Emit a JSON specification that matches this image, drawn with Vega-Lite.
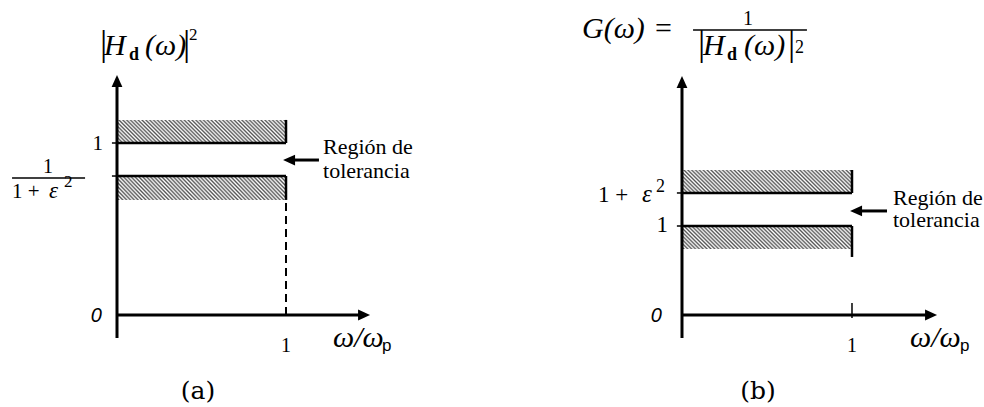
{
  "$schema": "https://vega.github.io/schema/vega-lite/v6.json",
  "background": "white",
  "padding": 0,
  "spacing": 0,
  "config": {"view": {"stroke": null}},
  "hconcat": [
    {
      "width": 492,
      "height": 407,
      "encoding": {
        "x": {"field": "x", "type": "quantitative", "scale": {"domain": [-0.6923, 2.2189], "nice": false, "zero": false}, "axis": null},
        "y": {"field": "y", "type": "quantitative", "scale": {"domain": [-0.5349, 1.8314], "nice": false, "zero": false}, "axis": null}
      },
      "layer": [
        {
          "data": {"values": [
            {"x": 0, "x2": 1, "y": 1.0, "y2": 1.134},
            {"x": 0, "x2": 1, "y": 0.669, "y2": 0.808}
          ]},
          "mark": {"type": "rect", "strokeWidth": 0, "fill": {"gradient": "linear", "x1": 0, "y1": 1, "x2": 1.115, "y2": 0.848, "stops": [
            {"offset": 0, "color": "#ffffff"}, {"offset": 0.01, "color": "#555555"}, {"offset": 0.02, "color": "#ffffff"}, {"offset": 0.03, "color": "#555555"}, {"offset": 0.04, "color": "#ffffff"}, {"offset": 0.05, "color": "#555555"}, {"offset": 0.06, "color": "#ffffff"}, {"offset": 0.07, "color": "#555555"}, {"offset": 0.08, "color": "#ffffff"}, {"offset": 0.09, "color": "#555555"},
            {"offset": 0.1, "color": "#ffffff"}, {"offset": 0.11, "color": "#555555"}, {"offset": 0.12, "color": "#ffffff"}, {"offset": 0.13, "color": "#555555"}, {"offset": 0.14, "color": "#ffffff"}, {"offset": 0.15, "color": "#555555"}, {"offset": 0.16, "color": "#ffffff"}, {"offset": 0.17, "color": "#555555"}, {"offset": 0.18, "color": "#ffffff"}, {"offset": 0.19, "color": "#555555"},
            {"offset": 0.2, "color": "#ffffff"}, {"offset": 0.21, "color": "#555555"}, {"offset": 0.22, "color": "#ffffff"}, {"offset": 0.23, "color": "#555555"}, {"offset": 0.24, "color": "#ffffff"}, {"offset": 0.25, "color": "#555555"}, {"offset": 0.26, "color": "#ffffff"}, {"offset": 0.27, "color": "#555555"}, {"offset": 0.28, "color": "#ffffff"}, {"offset": 0.29, "color": "#555555"},
            {"offset": 0.3, "color": "#ffffff"}, {"offset": 0.31, "color": "#555555"}, {"offset": 0.32, "color": "#ffffff"}, {"offset": 0.33, "color": "#555555"}, {"offset": 0.34, "color": "#ffffff"}, {"offset": 0.35, "color": "#555555"}, {"offset": 0.36, "color": "#ffffff"}, {"offset": 0.37, "color": "#555555"}, {"offset": 0.38, "color": "#ffffff"}, {"offset": 0.39, "color": "#555555"},
            {"offset": 0.4, "color": "#ffffff"}, {"offset": 0.41, "color": "#555555"}, {"offset": 0.42, "color": "#ffffff"}, {"offset": 0.43, "color": "#555555"}, {"offset": 0.44, "color": "#ffffff"}, {"offset": 0.45, "color": "#555555"}, {"offset": 0.46, "color": "#ffffff"}, {"offset": 0.47, "color": "#555555"}, {"offset": 0.48, "color": "#ffffff"}, {"offset": 0.49, "color": "#555555"},
            {"offset": 0.5, "color": "#ffffff"}, {"offset": 0.51, "color": "#555555"}, {"offset": 0.52, "color": "#ffffff"}, {"offset": 0.53, "color": "#555555"}, {"offset": 0.54, "color": "#ffffff"}, {"offset": 0.55, "color": "#555555"}, {"offset": 0.56, "color": "#ffffff"}, {"offset": 0.57, "color": "#555555"}, {"offset": 0.58, "color": "#ffffff"}, {"offset": 0.59, "color": "#555555"},
            {"offset": 0.6, "color": "#ffffff"}, {"offset": 0.61, "color": "#555555"}, {"offset": 0.62, "color": "#ffffff"}, {"offset": 0.63, "color": "#555555"}, {"offset": 0.64, "color": "#ffffff"}, {"offset": 0.65, "color": "#555555"}, {"offset": 0.66, "color": "#ffffff"}, {"offset": 0.67, "color": "#555555"}, {"offset": 0.68, "color": "#ffffff"}, {"offset": 0.69, "color": "#555555"},
            {"offset": 0.7, "color": "#ffffff"}, {"offset": 0.71, "color": "#555555"}, {"offset": 0.72, "color": "#ffffff"}, {"offset": 0.73, "color": "#555555"}, {"offset": 0.74, "color": "#ffffff"}, {"offset": 0.75, "color": "#555555"}, {"offset": 0.76, "color": "#ffffff"}, {"offset": 0.77, "color": "#555555"}, {"offset": 0.78, "color": "#ffffff"}, {"offset": 0.79, "color": "#555555"},
            {"offset": 0.8, "color": "#ffffff"}, {"offset": 0.81, "color": "#555555"}, {"offset": 0.82, "color": "#ffffff"}, {"offset": 0.83, "color": "#555555"}, {"offset": 0.84, "color": "#ffffff"}, {"offset": 0.85, "color": "#555555"}, {"offset": 0.86, "color": "#ffffff"}, {"offset": 0.87, "color": "#555555"}, {"offset": 0.88, "color": "#ffffff"}, {"offset": 0.89, "color": "#555555"},
            {"offset": 0.9, "color": "#ffffff"}, {"offset": 0.91, "color": "#555555"}, {"offset": 0.92, "color": "#ffffff"}, {"offset": 0.93, "color": "#555555"}, {"offset": 0.94, "color": "#ffffff"}, {"offset": 0.95, "color": "#555555"}, {"offset": 0.96, "color": "#ffffff"}, {"offset": 0.97, "color": "#555555"}, {"offset": 0.98, "color": "#ffffff"}, {"offset": 0.99, "color": "#555555"},
            {"offset": 1, "color": "#ffffff"}
          ]}},
          "encoding": {"x2": {"field": "x2"}, "y2": {"field": "y2"}}
        },
        {
          "data": {"values": [
            {"x": 0, "x2": 0, "y": -0.134, "y2": 1.36},
            {"x": 0, "x2": 1.46, "y": 0, "y2": 0},
            {"x": 1.05, "x2": 1.195, "y": 0.901, "y2": 0.901}
          ]},
          "mark": {"type": "rule", "color": "black", "strokeWidth": 3},
          "encoding": {"x2": {"field": "x2"}, "y2": {"field": "y2"}}
        },
        {
          "data": {"values": [
            {"x": 0, "x2": 1, "y": 1, "y2": 1},
            {"x": 0, "x2": 1, "y": 0.808, "y2": 0.808},
            {"x": 1, "x2": 1, "y": 1, "y2": 1.134},
            {"x": 1, "x2": 1, "y": 0.669, "y2": 0.808}
          ]},
          "mark": {"type": "rule", "color": "black", "strokeWidth": 2.5},
          "encoding": {"x2": {"field": "x2"}, "y2": {"field": "y2"}}
        },
        {
          "data": {"values": [
            {"x": -0.03, "x2": 0, "y": 1, "y2": 1},
            {"x": -0.03, "x2": 0, "y": 0.808, "y2": 0.808},
            {"x": -0.621, "x2": -0.189, "y": 0.797, "y2": 0.797}
          ]},
          "mark": {"type": "rule", "color": "black", "strokeWidth": 1.5},
          "encoding": {"x2": {"field": "x2"}, "y2": {"field": "y2"}}
        },
        {
          "data": {"values": [{"x": 1, "x2": 1, "y": 0, "y2": 0.669}]},
          "mark": {"type": "rule", "color": "black", "strokeWidth": 2, "strokeDash": [8, 5]},
          "encoding": {"x2": {"field": "x2"}, "y2": {"field": "y2"}}
        },
        {
          "data": {"values": [{"x": 0, "y": 1.36}]},
          "mark": {"type": "point", "shape": "M0,-1L0.9,1L-0.9,1Z", "filled": true, "color": "black", "opacity": 1, "size": 144, "strokeWidth": 0}
        },
        {
          "data": {"values": [{"x": 1.462, "y": 0}]},
          "mark": {"type": "point", "shape": "M1,0L-1,-0.9L-1,0.9Z", "filled": true, "color": "black", "opacity": 1, "size": 144, "strokeWidth": 0}
        },
        {
          "data": {"values": [{"x": 1.018, "y": 0.901}]},
          "mark": {"type": "point", "shape": "M-1,0L1,-0.9L1,0.9Z", "filled": true, "color": "black", "opacity": 1, "size": 144, "strokeWidth": 0}
        },
        {
          "data": {"values": [{"x": -0.083, "y": 0.959, "t": "1"}]},
          "mark": {"type": "text", "font": "Liberation Serif", "fontSize": 21, "align": "right", "baseline": "alphabetic", "color": "black"},
          "encoding": {"text": {"field": "t"}}
        },
        {
          "data": {"values": [{"x": 1, "y": -0.215, "t": "1"}, {"x": -0.408, "y": 0.826, "t": "1"}]},
          "mark": {"type": "text", "font": "Liberation Serif", "fontSize": 20, "align": "center", "baseline": "alphabetic", "color": "black"},
          "encoding": {"text": {"field": "t"}}
        },
        {
          "data": {"values": [{"x": -0.621, "y": 0.68, "t": "1 +"}]},
          "mark": {"type": "text", "font": "Liberation Serif", "fontSize": 21, "align": "left", "baseline": "alphabetic", "color": "black"},
          "encoding": {"text": {"field": "t"}}
        },
        {
          "data": {"values": [{"x": -0.402, "y": 0.68, "t": "ε"}]},
          "mark": {"type": "text", "font": "Liberation Serif", "fontStyle": "italic", "fontSize": 23, "align": "left", "baseline": "alphabetic", "color": "black"},
          "encoding": {"text": {"field": "t"}}
        },
        {
          "data": {"values": [{"x": -0.314, "y": 0.744, "t": "2"}, {"x": 0.426, "y": 1.599, "t": "2"}]},
          "mark": {"type": "text", "font": "Liberation Serif", "fontSize": 17, "align": "left", "baseline": "alphabetic", "color": "black"},
          "encoding": {"text": {"field": "t"}}
        },
        {
          "data": {"values": [{"x": 1.219, "y": 0.936, "t": "Región de"}, {"x": 1.219, "y": 0.797, "t": "tolerancia"}]},
          "mark": {"type": "text", "font": "Liberation Serif", "fontSize": 22, "align": "left", "baseline": "alphabetic", "color": "black"},
          "encoding": {"text": {"field": "t"}}
        },
        {
          "data": {"values": [{"x": -0.089, "y": -0.041, "t": "0"}]},
          "mark": {"type": "text", "font": "Liberation Sans", "fontStyle": "italic", "fontSize": 20, "align": "right", "baseline": "alphabetic", "color": "black"},
          "encoding": {"text": {"field": "t"}}
        },
        {
          "data": {"values": [{"x": -0.077, "y": 1.512, "t": "H"}, {"x": 0.166, "y": 1.512, "t": "(ω)"}, {"x": 1.278, "y": -0.186, "t": "ω/ω"}]},
          "mark": {"type": "text", "font": "Liberation Serif", "fontStyle": "italic", "fontSize": 30, "align": "left", "baseline": "alphabetic", "color": "black"},
          "encoding": {"text": {"field": "t"}}
        },
        {
          "data": {"values": [{"x": -0.101, "y": 1.512, "t": "|"}, {"x": 0.391, "y": 1.512, "t": "|"}]},
          "mark": {"type": "text", "font": "Liberation Serif", "fontSize": 36, "align": "left", "baseline": "alphabetic", "color": "black"},
          "encoding": {"text": {"field": "t"}}
        },
        {
          "data": {"values": [{"x": 0.071, "y": 1.483, "t": "d"}]},
          "mark": {"type": "text", "font": "Liberation Serif", "fontWeight": "bold", "fontSize": 18, "align": "left", "baseline": "alphabetic", "color": "black"},
          "encoding": {"text": {"field": "t"}}
        },
        {
          "data": {"values": [{"x": 1.568, "y": -0.209, "t": "p"}]},
          "mark": {"type": "text", "font": "Liberation Sans", "fontSize": 17, "align": "left", "baseline": "alphabetic", "color": "black"},
          "encoding": {"text": {"field": "t"}}
        },
        {
          "data": {"values": [{"x": 0.479, "y": -0.488, "t": "(a)"}]},
          "mark": {"type": "text", "font": "DejaVu Serif", "fontSize": 25, "align": "center", "baseline": "alphabetic", "color": "black"},
          "encoding": {"text": {"field": "t"}}
        }
      ]
    },
    {
      "width": 492,
      "height": 407,
      "encoding": {
        "x": {"field": "x", "type": "quantitative", "scale": {"domain": [-1.1176, 1.7765], "nice": false, "zero": false}, "axis": null},
        "y": {"field": "y", "type": "quantitative", "scale": {"domain": [-1.0337, 3.5393], "nice": false, "zero": false}, "axis": null}
      },
      "layer": [
        {
          "data": {"values": [
            {"x": 0, "x2": 1, "y": 1.371, "y2": 1.629},
            {"x": 0, "x2": 1, "y": 0.742, "y2": 1.0}
          ]},
          "mark": {"type": "rect", "strokeWidth": 0, "fill": {"gradient": "linear", "x1": 0, "y1": 1, "x2": 1.115, "y2": 0.848, "stops": [
            {"offset": 0, "color": "#ffffff"}, {"offset": 0.01, "color": "#555555"}, {"offset": 0.02, "color": "#ffffff"}, {"offset": 0.03, "color": "#555555"}, {"offset": 0.04, "color": "#ffffff"}, {"offset": 0.05, "color": "#555555"}, {"offset": 0.06, "color": "#ffffff"}, {"offset": 0.07, "color": "#555555"}, {"offset": 0.08, "color": "#ffffff"}, {"offset": 0.09, "color": "#555555"},
            {"offset": 0.1, "color": "#ffffff"}, {"offset": 0.11, "color": "#555555"}, {"offset": 0.12, "color": "#ffffff"}, {"offset": 0.13, "color": "#555555"}, {"offset": 0.14, "color": "#ffffff"}, {"offset": 0.15, "color": "#555555"}, {"offset": 0.16, "color": "#ffffff"}, {"offset": 0.17, "color": "#555555"}, {"offset": 0.18, "color": "#ffffff"}, {"offset": 0.19, "color": "#555555"},
            {"offset": 0.2, "color": "#ffffff"}, {"offset": 0.21, "color": "#555555"}, {"offset": 0.22, "color": "#ffffff"}, {"offset": 0.23, "color": "#555555"}, {"offset": 0.24, "color": "#ffffff"}, {"offset": 0.25, "color": "#555555"}, {"offset": 0.26, "color": "#ffffff"}, {"offset": 0.27, "color": "#555555"}, {"offset": 0.28, "color": "#ffffff"}, {"offset": 0.29, "color": "#555555"},
            {"offset": 0.3, "color": "#ffffff"}, {"offset": 0.31, "color": "#555555"}, {"offset": 0.32, "color": "#ffffff"}, {"offset": 0.33, "color": "#555555"}, {"offset": 0.34, "color": "#ffffff"}, {"offset": 0.35, "color": "#555555"}, {"offset": 0.36, "color": "#ffffff"}, {"offset": 0.37, "color": "#555555"}, {"offset": 0.38, "color": "#ffffff"}, {"offset": 0.39, "color": "#555555"},
            {"offset": 0.4, "color": "#ffffff"}, {"offset": 0.41, "color": "#555555"}, {"offset": 0.42, "color": "#ffffff"}, {"offset": 0.43, "color": "#555555"}, {"offset": 0.44, "color": "#ffffff"}, {"offset": 0.45, "color": "#555555"}, {"offset": 0.46, "color": "#ffffff"}, {"offset": 0.47, "color": "#555555"}, {"offset": 0.48, "color": "#ffffff"}, {"offset": 0.49, "color": "#555555"},
            {"offset": 0.5, "color": "#ffffff"}, {"offset": 0.51, "color": "#555555"}, {"offset": 0.52, "color": "#ffffff"}, {"offset": 0.53, "color": "#555555"}, {"offset": 0.54, "color": "#ffffff"}, {"offset": 0.55, "color": "#555555"}, {"offset": 0.56, "color": "#ffffff"}, {"offset": 0.57, "color": "#555555"}, {"offset": 0.58, "color": "#ffffff"}, {"offset": 0.59, "color": "#555555"},
            {"offset": 0.6, "color": "#ffffff"}, {"offset": 0.61, "color": "#555555"}, {"offset": 0.62, "color": "#ffffff"}, {"offset": 0.63, "color": "#555555"}, {"offset": 0.64, "color": "#ffffff"}, {"offset": 0.65, "color": "#555555"}, {"offset": 0.66, "color": "#ffffff"}, {"offset": 0.67, "color": "#555555"}, {"offset": 0.68, "color": "#ffffff"}, {"offset": 0.69, "color": "#555555"},
            {"offset": 0.7, "color": "#ffffff"}, {"offset": 0.71, "color": "#555555"}, {"offset": 0.72, "color": "#ffffff"}, {"offset": 0.73, "color": "#555555"}, {"offset": 0.74, "color": "#ffffff"}, {"offset": 0.75, "color": "#555555"}, {"offset": 0.76, "color": "#ffffff"}, {"offset": 0.77, "color": "#555555"}, {"offset": 0.78, "color": "#ffffff"}, {"offset": 0.79, "color": "#555555"},
            {"offset": 0.8, "color": "#ffffff"}, {"offset": 0.81, "color": "#555555"}, {"offset": 0.82, "color": "#ffffff"}, {"offset": 0.83, "color": "#555555"}, {"offset": 0.84, "color": "#ffffff"}, {"offset": 0.85, "color": "#555555"}, {"offset": 0.86, "color": "#ffffff"}, {"offset": 0.87, "color": "#555555"}, {"offset": 0.88, "color": "#ffffff"}, {"offset": 0.89, "color": "#555555"},
            {"offset": 0.9, "color": "#ffffff"}, {"offset": 0.91, "color": "#555555"}, {"offset": 0.92, "color": "#ffffff"}, {"offset": 0.93, "color": "#555555"}, {"offset": 0.94, "color": "#ffffff"}, {"offset": 0.95, "color": "#555555"}, {"offset": 0.96, "color": "#ffffff"}, {"offset": 0.97, "color": "#555555"}, {"offset": 0.98, "color": "#ffffff"}, {"offset": 0.99, "color": "#555555"},
            {"offset": 1, "color": "#ffffff"}
          ]}},
          "encoding": {"x2": {"field": "x2"}, "y2": {"field": "y2"}}
        },
        {
          "data": {"values": [
            {"x": 0, "x2": 0, "y": -0.258, "y2": 2.618},
            {"x": 0, "x2": 1.465, "y": 0, "y2": 0},
            {"x": 1.059, "x2": 1.206, "y": 1.169, "y2": 1.169}
          ]},
          "mark": {"type": "rule", "color": "black", "strokeWidth": 3},
          "encoding": {"x2": {"field": "x2"}, "y2": {"field": "y2"}}
        },
        {
          "data": {"values": [
            {"x": 0, "x2": 1, "y": 1.371, "y2": 1.371},
            {"x": 0, "x2": 1, "y": 1, "y2": 1},
            {"x": 1, "x2": 1, "y": 1.371, "y2": 1.629},
            {"x": 1, "x2": 1, "y": 0.652, "y2": 1.0}
          ]},
          "mark": {"type": "rule", "color": "black", "strokeWidth": 2.5},
          "encoding": {"x2": {"field": "x2"}, "y2": {"field": "y2"}}
        },
        {
          "data": {"values": [
            {"x": -0.03, "x2": 0, "y": 1.371, "y2": 1.371},
            {"x": -0.03, "x2": 0, "y": 1, "y2": 1},
            {"x": 1, "x2": 1, "y": -0.034, "y2": 0.135},
            {"x": 0.065, "x2": 0.735, "y": 3.202, "y2": 3.202}
          ]},
          "mark": {"type": "rule", "color": "black", "strokeWidth": 1.5},
          "encoding": {"x2": {"field": "x2"}, "y2": {"field": "y2"}}
        },
        {
          "data": {"values": [{"x": 0, "y": 2.618}]},
          "mark": {"type": "point", "shape": "M0,-1L0.9,1L-0.9,1Z", "filled": true, "color": "black", "opacity": 1, "size": 144, "strokeWidth": 0}
        },
        {
          "data": {"values": [{"x": 1.465, "y": 0}]},
          "mark": {"type": "point", "shape": "M1,0L-1,-0.9L-1,0.9Z", "filled": true, "color": "black", "opacity": 1, "size": 144, "strokeWidth": 0}
        },
        {
          "data": {"values": [{"x": 1.024, "y": 1.169}]},
          "mark": {"type": "point", "shape": "M-1,0L1,-0.9L1,0.9Z", "filled": true, "color": "black", "opacity": 1, "size": 144, "strokeWidth": 0}
        },
        {
          "data": {"values": [{"x": -0.082, "y": 0.933, "t": "1"}]},
          "mark": {"type": "text", "font": "Liberation Serif", "fontSize": 23, "align": "right", "baseline": "alphabetic", "color": "black"},
          "encoding": {"text": {"field": "t"}}
        },
        {
          "data": {"values": [{"x": 1, "y": -0.416, "t": "1"}, {"x": 0.388, "y": 3.258, "t": "1"}]},
          "mark": {"type": "text", "font": "Liberation Serif", "fontSize": 20, "align": "center", "baseline": "alphabetic", "color": "black"},
          "encoding": {"text": {"field": "t"}}
        },
        {
          "data": {"values": [{"x": -0.494, "y": 1.27, "t": "1 +"}]},
          "mark": {"type": "text", "font": "Liberation Serif", "fontSize": 23, "align": "left", "baseline": "alphabetic", "color": "black"},
          "encoding": {"text": {"field": "t"}}
        },
        {
          "data": {"values": [{"x": -0.235, "y": 1.27, "t": "ε"}]},
          "mark": {"type": "text", "font": "Liberation Serif", "fontStyle": "italic", "fontSize": 25, "align": "left", "baseline": "alphabetic", "color": "black"},
          "encoding": {"text": {"field": "t"}}
        },
        {
          "data": {"values": [{"x": -0.153, "y": 1.382, "t": "2"}, {"x": 0.665, "y": 2.944, "t": "2"}]},
          "mark": {"type": "text", "font": "Liberation Serif", "fontSize": 18, "align": "left", "baseline": "alphabetic", "color": "black"},
          "encoding": {"text": {"field": "t"}}
        },
        {
          "data": {"values": [{"x": 1.241, "y": 1.236, "t": "Región de"}, {"x": 1.241, "y": 0.989, "t": "tolerancia"}]},
          "mark": {"type": "text", "font": "Liberation Serif", "fontSize": 22, "align": "left", "baseline": "alphabetic", "color": "black"},
          "encoding": {"text": {"field": "t"}}
        },
        {
          "data": {"values": [{"x": -0.118, "y": -0.079, "t": "0"}]},
          "mark": {"type": "text", "font": "Liberation Sans", "fontStyle": "italic", "fontSize": 20, "align": "right", "baseline": "alphabetic", "color": "black"},
          "encoding": {"text": {"field": "t"}}
        },
        {
          "data": {"values": [{"x": -0.588, "y": 3.112, "t": "G(ω)"}, {"x": 0.124, "y": 2.921, "t": "H"}, {"x": 0.365, "y": 2.921, "t": "(ω)"}, {"x": 1.341, "y": -0.36, "t": "ω/ω"}]},
          "mark": {"type": "text", "font": "Liberation Serif", "fontStyle": "italic", "fontSize": 30, "align": "left", "baseline": "alphabetic", "color": "black"},
          "encoding": {"text": {"field": "t"}}
        },
        {
          "data": {"values": [{"x": -0.159, "y": 3.112, "t": "="}]},
          "mark": {"type": "text", "font": "Liberation Serif", "fontSize": 30, "align": "left", "baseline": "alphabetic", "color": "black"},
          "encoding": {"text": {"field": "t"}}
        },
        {
          "data": {"values": [{"x": 0.094, "y": 2.921, "t": "|"}, {"x": 0.624, "y": 2.921, "t": "|"}]},
          "mark": {"type": "text", "font": "Liberation Serif", "fontSize": 36, "align": "left", "baseline": "alphabetic", "color": "black"},
          "encoding": {"text": {"field": "t"}}
        },
        {
          "data": {"values": [{"x": 0.265, "y": 2.865, "t": "d"}]},
          "mark": {"type": "text", "font": "Liberation Serif", "fontWeight": "bold", "fontSize": 18, "align": "left", "baseline": "alphabetic", "color": "black"},
          "encoding": {"text": {"field": "t"}}
        },
        {
          "data": {"values": [{"x": 1.635, "y": -0.404, "t": "p"}]},
          "mark": {"type": "text", "font": "Liberation Sans", "fontSize": 17, "align": "left", "baseline": "alphabetic", "color": "black"},
          "encoding": {"text": {"field": "t"}}
        },
        {
          "data": {"values": [{"x": 0.447, "y": -0.944, "t": "(b)"}]},
          "mark": {"type": "text", "font": "DejaVu Serif", "fontSize": 25, "align": "center", "baseline": "alphabetic", "color": "black"},
          "encoding": {"text": {"field": "t"}}
        }
      ]
    }
  ]
}
